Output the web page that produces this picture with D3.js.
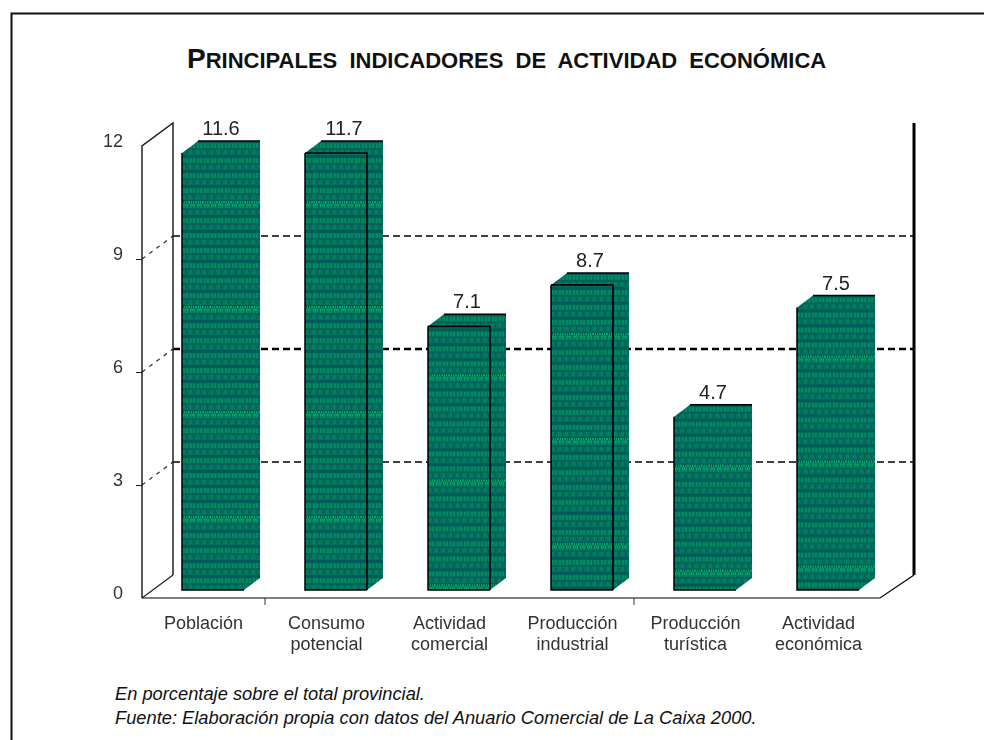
<!DOCTYPE html>
<html>
<head>
<meta charset="utf-8">
<script src="https://d3js.org/d3.v7.min.js"></script>
<style>
  body { margin: 0; background: #fff; }
  text { font-family: "Liberation Sans", Arial, sans-serif; }
</style>
</head>
<body>
<div id="chart"></div>
<script>
// Data
const categories = ["Población", "Consumo potencial", "Actividad comercial", "Producción industrial", "Producción turística", "Actividad económica"];
// bar heights as measured against the gridlines
const values = [11.6, 11.6, 7.0, 8.1, 4.6, 7.5];
// numbers as printed above the bars
const valueLabels = ["11.6", "11.7", "7.1", "8.7", "4.7", "7.5"];
const yTicks = [0, 3, 6, 9, 12];
const gridValues = [3, 6, 9];
const footnotes = [
    "En porcentaje sobre el total provincial.",
    "Fuente: Elaboración propia con datos del Anuario Comercial de La Caixa 2000."
];

// Which bars show the black front edge
const frontEdge = [false, true, true, true, false, false];

// Set dimensions
const width = 984;
const height = 740;
const axisBottom = 598;      // front of the floor
const wallShift = { x: 31, y: 23 };  // front of chart to back wall
const barInset = 8;          // bars stand this far above the front floor line
const barOffset = 40;
const barWidth = 62;
const depth = { x: 16, y: 12 };

const svg = d3.select("#chart")
    .append("svg")
    .attr("width", width)
    .attr("height", height);

const defs = svg.append("defs");

// Soft filter, the chart in the reference is a low quality bitmap
defs.append("filter").attr("id", "soft")
    .append("feGaussianBlur").attr("stdDeviation", 0.6);

// Dithered green fill: 15px rows of dark bands and bright strokes,
// with a brighter dotted band every seventh row
const tileH = 105;
const pattern = defs.append("pattern")
    .attr("id", "dither")
    .attr("patternUnits", "userSpaceOnUse")
    .attr("y", 2)
    .attr("width", 7)
    .attr("height", tileH);
pattern.append("rect").attr("width", 7).attr("height", tileH).attr("fill", "#006f5c");
d3.range(0, tileH, 15).forEach(top => {
    pattern.append("rect").attr("y", top).attr("width", 7).attr("height", 3).attr("fill", "#005a58");
    pattern.append("rect").attr("y", top + 8).attr("width", 7).attr("height", 2).attr("fill", "#00625a");
    pattern.append("rect").attr("x", 1).attr("y", top + 3).attr("width", 2).attr("height", 5).attr("fill", "#008a60");
    pattern.append("rect").attr("x", 4).attr("y", top + 3).attr("width", 2).attr("height", 5).attr("fill", "#008a60");
    pattern.append("rect").attr("x", 0).attr("y", top + 10).attr("width", 3).attr("height", 4).attr("fill", "#007f5e");
    pattern.append("rect").attr("x", 4).attr("y", top + 10).attr("width", 1).attr("height", 4).attr("fill", "#005f5a");
});
d3.range(0, 7, 2).forEach(dot => {
    pattern.append("rect").attr("x", dot).attr("y", 46).attr("width", 1).attr("height", 2).attr("fill", "#00a862");
    pattern.append("rect").attr("x", dot + 1).attr("y", 49).attr("width", 1).attr("height", 2).attr("fill", "#00a862");
});

// Frame (only top and left edges are on the page)
svg.append("path")
    .attr("d", "M11.5,740V13.5H984")
    .attr("fill", "none")
    .attr("stroke", "#111")
    .attr("stroke-width", 2);

// Title in small caps
const title = svg.append("text")
    .attr("x", 187)
    .attr("y", 68)
    .attr("font-weight", "bold")
    .attr("fill", "#111")
    .attr("font-size", 28)
    .attr("word-spacing", 6);
title.append("tspan").text("P");
title.append("tspan").attr("font-size", 22).text("RINCIPALES INDICADORES DE ACTIVIDAD ECONÓMICA");

// Scales
const x = d3.scaleBand()
    .domain(categories)
    .range([142, 880]);

const y = d3.scaleLinear()
    .domain([0, 12])
    .range([axisBottom, axisBottom - 452]);

const chart = svg.append("g").attr("filter", "url(#soft)");

// Back wall gridlines
chart.selectAll(".grid")
    .data(gridValues)
    .enter()
    .append("line")
    .attr("class", "grid")
    .attr("x1", 142 + wallShift.x)
    .attr("x2", 914)
    .attr("y1", d => y(d) - wallShift.y)
    .attr("y2", d => y(d) - wallShift.y)
    .attr("stroke", "#000")
    .attr("stroke-width", d => d === 6 ? 2.4 : 1.6)
    .attr("stroke-dasharray", "7,4");

// Left wall
chart.append("path")
    .attr("d", `M142,${y(0)}V${y(12)}L${142 + wallShift.x},${y(12) - wallShift.y}V${y(0) - wallShift.y}`)
    .attr("fill", "none")
    .attr("stroke", "#222")
    .attr("stroke-width", 1.5);

// Dashed connectors from front to back wall
chart.selectAll(".connector")
    .data(yTicks.slice(0, 4))
    .enter()
    .append("line")
    .attr("class", "connector")
    .attr("x1", 142)
    .attr("x2", 142 + wallShift.x)
    .attr("y1", d => y(d))
    .attr("y2", d => y(d) - wallShift.y)
    .attr("stroke", "#222")
    .attr("stroke-width", 1.2)
    .attr("stroke-dasharray", d => d === 0 ? null : "4,5");

// Y Axis
const yAxis = chart.append("g")
    .attr("transform", "translate(142,0)")
    .call(d3.axisLeft(y).tickValues(yTicks).tickSize(6).tickPadding(13));
yAxis.select(".domain").remove();
yAxis.selectAll("line").attr("stroke", d => d === 0 || d === 12 ? "none" : "#222");
yAxis.selectAll("text")
    .attr("font-size", 18)
    .attr("font-family", null)
    .attr("fill", "#333")
    .attr("dy", "0.05em");

// Floor and right wall
chart.append("path")
    .attr("d", `M142,${axisBottom}H880L914,${axisBottom - wallShift.y}`)
    .attr("fill", "none")
    .attr("stroke", "#000")
    .attr("stroke-width", 1.2);
chart.append("line")
    .attr("x1", 914).attr("x2", 914)
    .attr("y1", y(12) - wallShift.y).attr("y2", axisBottom - wallShift.y)
    .attr("stroke", "#000")
    .attr("stroke-width", 3);

// Ticks under the floor
chart.selectAll(".floor-tick")
    .data([categories[1], categories[4]])
    .enter()
    .append("line")
    .attr("class", "floor-tick")
    .attr("x1", d => x(d)).attr("x2", d => x(d))
    .attr("y1", axisBottom).attr("y2", axisBottom + 7)
    .attr("stroke", "#333");

// Bars
const bars = svg.selectAll(".bar")
    .data(categories.map((c, i) => ({ c, v: values[i], label: valueLabels[i], edge: frontEdge[i] })))
    .enter()
    .append("g")
    .attr("class", "bar")
    .attr("transform", d => `translate(${x(d.c) + barOffset},${y(d.v) - barInset})`);

// Whole silhouette: front, top and side faces
bars.append("path")
    .attr("d", d => {
        const h = y(0) - y(d.v);
        return `M0,0L${depth.x},${-depth.y}H${barWidth + depth.x}V${h - depth.y}L${barWidth},${h}H0Z`;
    })
    .attr("fill", "url(#dither)");

// Left, bottom and back top edges
bars.append("path")
    .attr("d", d => `M${depth.x},${-depth.y}H${barWidth + depth.x}M0,0V${y(0) - y(d.v)}H${barWidth}`)
    .attr("fill", "none")
    .attr("stroke", "#000")
    .attr("stroke-width", 1.5);

// Front face edges, not drawn on every bar
bars.filter(d => d.edge)
    .append("path")
    .attr("d", d => `M0,0H${barWidth}V${y(0) - y(d.v)}`)
    .attr("fill", "none")
    .attr("stroke", "#000")
    .attr("stroke-width", 1.6);

// Value labels
bars.append("text")
    .attr("x", barWidth / 2 + depth.x / 2)
    .attr("y", -depth.y - 6)
    .attr("text-anchor", "middle")
    .attr("font-size", 20)
    .attr("fill", "#222")
    .attr("filter", "url(#soft)")
    .text(d => d.label);

// Category labels, split after the first word
const catLabels = chart.selectAll(".cat")
    .data(categories)
    .enter()
    .append("text")
    .attr("class", "cat")
    .attr("text-anchor", "middle")
    .attr("font-size", 18)
    .attr("fill", "#333");

catLabels.selectAll("tspan")
    .data(d => d.split(" ").map(w => ({ w, c: d })))
    .enter()
    .append("tspan")
    .attr("x", d => x(d.c) + x.bandwidth() / 2)
    .attr("y", (d, i) => 629 + i * 21)
    .text(d => d.w);

// Footnotes
svg.selectAll(".note")
    .data(footnotes)
    .enter()
    .append("text")
    .attr("class", "note")
    .attr("x", 115)
    .attr("y", (d, i) => 700 + i * 23.5)
    .attr("font-size", 18.3)
    .attr("font-style", "italic")
    .attr("fill", "#111")
    .text(d => d);
</script>
</body>
</html>
